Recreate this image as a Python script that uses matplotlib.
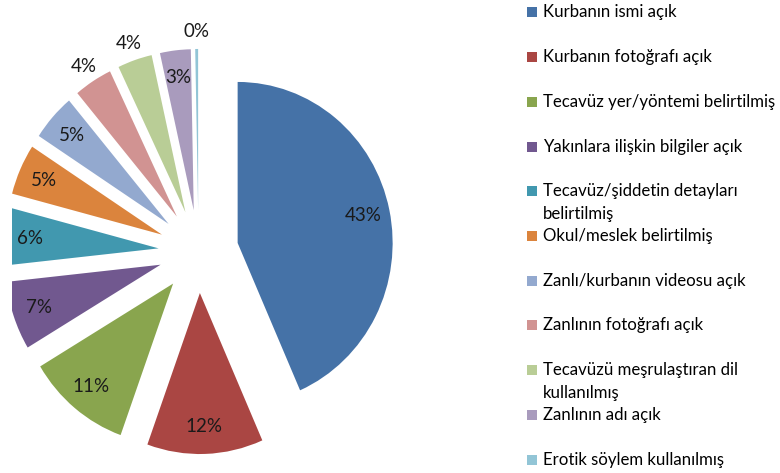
import matplotlib
matplotlib.use('Agg')
import matplotlib.pyplot as plt
import numpy as np
from matplotlib.patches import Rectangle

categories = [
    "Kurbanın ismi açık",
    "Kurbanın fotoğrafı açık",
    "Tecavüz yer/yöntemi belirtilmiş",
    "Yakınlara ilişkin bilgiler açık",
    "Tecavüz/şiddetin detayları\nbelirtilmiş",
    "Okul/meslek belirtilmiş",
    "Zanlı/kurbanın videosu açık",
    "Zanlının fotoğrafı açık",
    "Tecavüzü meşrulaştıran dil\nkullanılmış",
    "Zanlının adı açık",
    "Erotik söylem kullanılmış",
]
values = [43.4, 12.1, 10.9, 6.9, 5.8, 5.1, 4.7, 4.0, 3.6, 3.2, 0.3]

colors = ["#4572A7", "#AA4643", "#89A54E", "#71588F", "#4198AF", "#DB843D",
          "#93A9CF", "#D19392", "#B9CD96", "#A99BBD", "#92C5D6"]
label_outside = [False, False, False, False, False, False, False, True, True, False, True]

FONT = ['Lato', 'DejaVu Sans']
plt.rcParams['font.family'] = FONT

W, H = 780, 473
fig = plt.figure(figsize=(W / 100, H / 100), dpi=100)

# axes geometry in pixels
cx, cy = 198.5, 251.5
sx, sy = 155.0, 161.0
left_px, right_px = 12, 500
ax = fig.add_axes([left_px / W, 0, (right_px - left_px) / W, 1])

wedges, _ = ax.pie(values, colors=colors, startangle=90, counterclock=False,
                   explode=[0.258] * len(values), radius=1,
                   wedgeprops=dict(linewidth=0))
for w in wedges:
    w.set_clip_on(True)
    w.set_clip_path(ax.patch)
ax.set_aspect('auto')
ax.set_xlim((left_px - cx) / sx, (right_px - cx) / sx)
ax.set_ylim((cy - H) / sy, cy / sy)
ax.axis('off')

total = sum(values)
for w, v, out in zip(wedges, values, label_outside):
    th = np.deg2rad((w.theta1 + w.theta2) / 2)
    r = 1.11 if out else 0.83
    x = w.center[0] + r * np.cos(th)
    y = w.center[1] + r * np.sin(th)
    ax.text(x, y, f"{round(v / total * 100):.0f}%", ha='center', va='center',
            fontsize=13.5, color='#1a1a1a', clip_on=False)

# legend
y0, dy, line_h = 12.5, 44.7, 22.5
for i, (lab, col) in enumerate(zip(categories, colors)):
    yc = y0 + dy * i
    fig.patches.append(Rectangle((527 / W, 1 - (yc + 5) / H), 10 / W, 10 / H,
                                 transform=fig.transFigure, facecolor=col,
                                 edgecolor='none'))
    for k, line in enumerate(lab.split("\n")):
        fig.text(543 / W, 1 - (yc + k * line_h) / H, line, ha='left', va='center',
                 fontsize=12.1, color='#000000')

fig.savefig('out.png', dpi=100)
